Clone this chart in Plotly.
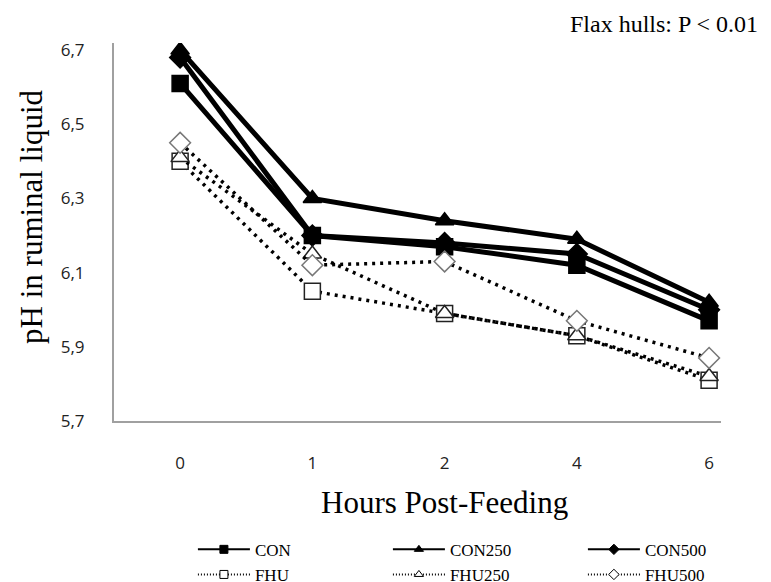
import plotly.graph_objects as go

hours = ["0", "1", "2", "4", "6"]
con = [6.61, 6.20, 6.17, 6.12, 5.97]
con250 = [6.70, 6.30, 6.24, 6.19, 6.02]
con500 = [6.68, 6.20, 6.18, 6.15, 6.00]
fhu = [6.40, 6.05, 5.99, 5.93, 5.81]
fhu250 = [6.41, 6.15, 5.99, 5.93, 5.82]
fhu500 = [6.45, 6.12, 6.13, 5.97, 5.87]
y_ticks = [5.7, 5.9, 6.1, 6.3, 6.5, 6.7]
y_labels = ["5,7", "5,9", "6,1", "6,3", "6,5", "6,7"]

series = [
    ("CON", con, "square", "black", "black"),
    ("CON250", con250, "triangle-up", "black", "black"),
    ("CON500", con500, "diamond", "black", "black"),
    ("FHU", fhu, "square", "white", "#222"),
    ("FHU250", fhu250, "triangle-up", "white", "#222"),
    ("FHU500", fhu500, "diamond", "white", "#777"),
]

fig = go.Figure()
for name, vals, sym, fill, edge in series:
    solid = fill == "black"
    fig.add_trace(go.Scatter(
        x=hours, y=vals, name=name, mode="lines+markers", showlegend=False,
        line=dict(color="black", width=5 if solid else 3.5, dash="solid" if solid else "3px,5px"),
        marker=dict(symbol=sym, size=16, color=fill, line=dict(color=edge, width=1.5)),
    ))
    # legend sample (thin line, small marker)
    fig.add_trace(go.Scatter(
        x=[None], y=[None], name=name, mode="lines+markers",
        line=dict(color="black", width=2, dash="solid" if solid else "1px,2px"),
        marker=dict(symbol=sym, size=8, color=fill, line=dict(color="black", width=1)),
    ))

fig.update_layout(
    width=771, height=582,
    margin=dict(l=106, r=58, t=35, b=169),
    plot_bgcolor="white", paper_bgcolor="white",
    font=dict(family="Liberation Serif", color="black"),
    xaxis=dict(
        type="category", range=[-0.5, 4.09],
        showline=True, linecolor="#a0a0a0", linewidth=2, showgrid=False,
        ticks="", ticklabelstandoff=26,
        tickfont=dict(family="Open Sans", size=17, color="#222"),
    ),
    yaxis=dict(
        range=[5.7, 6.719], tickvals=y_ticks, ticktext=y_labels,
        showline=True, linecolor="#a0a0a0", linewidth=2, showgrid=False, zeroline=False,
        ticks="", ticklabelstandoff=24,
        tickfont=dict(family="Open Sans", size=17, color="#222"),
    ),
    legend=dict(
        orientation="h", x=0.13, xanchor="left",
        yref="container", y=0.1, yanchor="top",
        entrywidth=128, itemwidth=52, tracegroupgap=0,
        font=dict(family="Liberation Serif", size=17),
    ),
    showlegend=True,
)

fig.add_annotation(
    text="Hours Post-Feeding", xref="x", yref="paper", x=2, y=-0.215,
    xanchor="center", yanchor="middle", showarrow=False,
    font=dict(family="Liberation Serif", size=31),
)
fig.add_annotation(
    text="pH in ruminal liquid", xref="paper", yref="paper", x=-0.135, y=0.54,
    xanchor="center", yanchor="middle", showarrow=False, textangle=-90,
    font=dict(family="Liberation Serif", size=31),
)
fig.add_annotation(
    text="Flax hulls: P < 0.01", xref="paper", yref="paper",
    x=0.748, y=1.05, xanchor="left", yanchor="middle", showarrow=False,
    font=dict(family="Liberation Serif", size=24),
)

fig.write_html("out.html")
